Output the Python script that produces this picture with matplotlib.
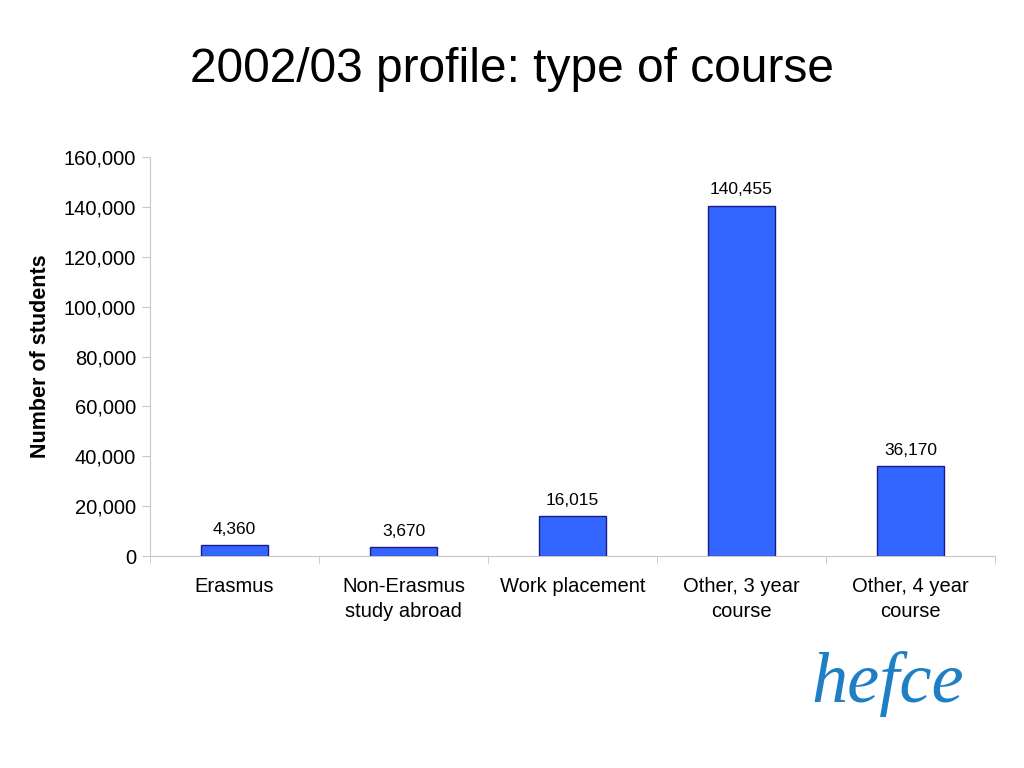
import matplotlib
matplotlib.use("Agg")
import matplotlib.pyplot as plt
import numpy as np

categories = ["Erasmus", "Non-Erasmus\nstudy abroad", "Work placement",
              "Other, 3 year\ncourse", "Other, 4 year\ncourse"]
students = [4360, 3670, 16015, 140455, 36170]
yticks = [0, 20000, 40000, 60000, 80000, 100000, 120000, 140000, 160000]

plt.rcParams['font.family'] = ['Liberation Sans', 'DejaVu Sans']

fig = plt.figure(figsize=(10.24, 7.68), dpi=100)
ax = fig.add_axes([0.1465, 0.276, 0.8252, 0.5195])

x = np.arange(len(categories))
ax.bar(x, students, width=0.4, color='#3366FF', edgecolor='#1a1a8c', linewidth=1, zorder=2)

for xi, v in zip(x, students):
    ax.annotate(f"{v:,}", (xi, v), xytext=(0, 6), textcoords='offset points',
                ha='center', va='bottom', fontsize=12.5)

ax.set_xlim(-0.5, len(categories) - 0.5)
ax.set_ylim(0, 160000)
ax.set_yticks(yticks)
ax.set_yticklabels([f"{t:,}" for t in yticks], fontsize=14.5)
ax.set_xticks(x)
ax.set_xticklabels(categories, fontsize=14.5, linespacing=1.4)
ax.tick_params(axis='x', length=0, pad=15)
# small separators between categories on the x axis
ax.set_xticks(np.arange(len(categories) + 1) - 0.5, minor=True)
ax.tick_params(axis='x', which='minor', length=6, color='#c8c8c8')
ax.tick_params(axis='y', length=6, color='#c8c8c8', pad=4)

for side in ['top', 'right']:
    ax.spines[side].set_visible(False)
for side in ['left', 'bottom']:
    ax.spines[side].set_color('#c8c8c8')

ax.set_ylabel("Number of students", fontsize=15.5, fontweight='bold', labelpad=9)

fig.text(0.5, 0.91, "2002/03 profile: type of course", ha='center', va='center', fontsize=34.5)

# logo text
fig.text(0.867, 0.11, "hefce", ha='center', va='center', fontsize=52,
         family='Liberation Serif', style='italic', color='#1f7fc4')

fig.savefig("out.png", dpi=100)
